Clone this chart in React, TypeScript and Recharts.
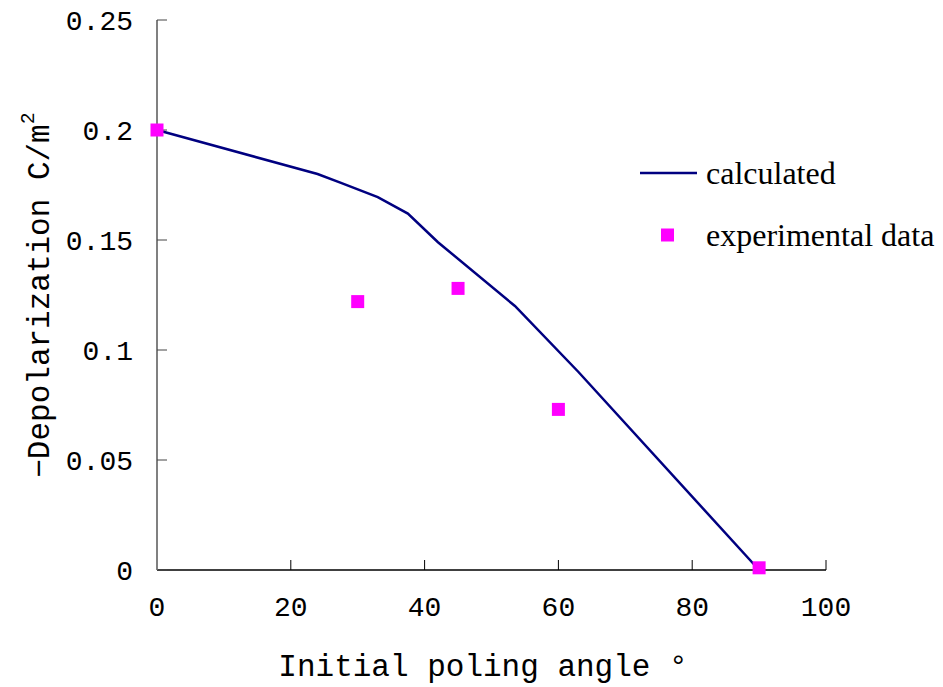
import React from "react";
import {
  ComposedChart,
  Line,
  Scatter,
  XAxis,
  YAxis,
  Legend,
  Label,
} from "recharts";

// calculated curve (angle in degrees, depolarization in C/m^2)
const calcAngles = [0, 24, 27.5, 33, 37.5, 42, 53.5, 63, 90];
const calcValues = [0.2, 0.18, 0.176, 0.1695, 0.162, 0.149, 0.12, 0.09, 0];

// measured points
const expAngles = [0, 30, 45, 60, 90];
const expValues = [0.2, 0.122, 0.128, 0.073, 0.001];

const xTicks = [0, 20, 40, 60, 80, 100];
const yTicks = [0, 0.05, 0.1, 0.15, 0.2, 0.25];

const NAVY = "#000080";
const MAGENTA = "#FF00FF";
const MONO = "'Liberation Mono', 'DejaVu Sans Mono', monospace";
const SERIF = "'Liberation Serif', 'DejaVu Serif', serif";

const calcData = calcAngles.map((x, i) => ({ x, y: calcValues[i] }));
const expData = expAngles.map((x, i) => ({ x, y: expValues[i] }));

const SquareDot = (props: any) => {
  const { cx, cy } = props;
  if (cx == null || cy == null) return null;
  return <rect x={cx - 6.5} y={cy - 6.5} width={13} height={13} fill={MAGENTA} />;
};

const LegendBox = () => (
  <div style={{ fontFamily: SERIF, fontSize: 32, color: "#000", lineHeight: 1 }}>
    <div style={{ display: "flex", alignItems: "center", height: 40 }}>
      <svg width={66} height={20}>
        <line x1={0} y1={10} x2={57} y2={10} stroke={NAVY} strokeWidth={2.5} />
      </svg>
      <span>calculated</span>
    </div>
    <div style={{ display: "flex", alignItems: "center", height: 40, marginTop: 22 }}>
      <svg width={66} height={20}>
        <rect x={21} y={3.5} width={13} height={13} fill={MAGENTA} />
      </svg>
      <span>experimental data</span>
    </div>
  </div>
);

const YTitle = () => (
  <text
    x={40}
    y={295}
    transform="rotate(-90, 40, 295)"
    textAnchor="middle"
    dominantBaseline="central"
    fontFamily={MONO}
    fontSize={31}
    fill="#000"
  >
    −Depolarization C/m
    <tspan baselineShift="super" fontSize={20}>
      2
    </tspan>
  </text>
);

const XTitle = () => (
  <text
    x={483}
    y={667}
    textAnchor="middle"
    dominantBaseline="central"
    fontFamily={MONO}
    fontSize={31}
    fill="#000"
  >
    Initial poling angle °
  </text>
);

export default function App() {
  return (
    <div style={{ position: "absolute", left: 0, top: 0, background: "#fff" }}>
      <ComposedChart
        width={943}
        height={687}
        margin={{ top: 20, right: 117, bottom: 0, left: 0 }}
      >
        <XAxis
          type="number"
          dataKey="x"
          domain={[0, 100]}
          ticks={xTicks}
          height={117}
          tickSize={-10}
          tickMargin={36}
          axisLine={{ stroke: "#000", strokeWidth: 1.5 }}
          tickLine={{ stroke: "#000" }}
          tick={{ fontFamily: MONO, fontSize: 28, fill: "#000" }}
        >
          <Label content={<XTitle />} />
        </XAxis>
        <YAxis
          type="number"
          dataKey="y"
          domain={[0, 0.25]}
          ticks={yTicks}
          width={157}
          tickSize={-10}
          tickMargin={34}
          axisLine={{ stroke: "#808080", strokeWidth: 2 }}
          tickLine={{ stroke: "#444" }}
          tick={{ fontFamily: MONO, fontSize: 28, fill: "#000" }}
        >
          <Label content={<YTitle />} />
        </YAxis>
        <Legend
          layout="vertical"
          align="center"
          verticalAlign="middle"
          content={<LegendBox />}
          wrapperStyle={{ left: 640, top: 153, width: 303, height: 110 }}
        />
        <Line
          data={calcData}
          dataKey="y"
          type="linear"
          stroke={NAVY}
          strokeWidth={2.5}
          dot={false}
          activeDot={false}
          isAnimationActive={false}
          name="calculated"
        />
        <Scatter
          data={expData}
          dataKey="y"
          fill={MAGENTA}
          shape={<SquareDot />}
          isAnimationActive={false}
          name="experimental data"
        />
      </ComposedChart>
    </div>
  );
}
